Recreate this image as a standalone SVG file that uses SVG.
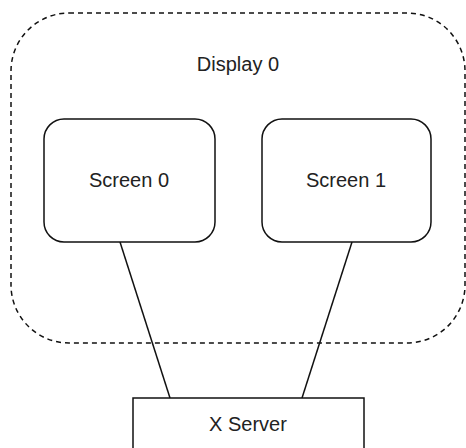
<svg xmlns="http://www.w3.org/2000/svg" width="466" height="448" viewBox="0 0 466 448">
<style>
.lbl{font-family:"Liberation Sans",Arial,sans-serif;font-size:20px;fill:#222;text-anchor:middle}
.box{fill:#fff;stroke:#111;stroke-width:1.5}
.edge{stroke:#111;stroke-width:1.5;fill:none}
</style>
<rect width="466" height="448" fill="#fff"/>
<g id="display0">
<rect x="11" y="13" width="454" height="330" rx="58" ry="58" fill="none" stroke="#111" stroke-width="1.5" stroke-dasharray="5,4"/>
<text class="lbl" x="238" y="71">Display 0</text>
</g>
<g id="connectors">
<line class="edge" x1="120" y1="242" x2="170" y2="398"/>
<line class="edge" x1="352" y1="242" x2="302" y2="398"/>
</g>
<g id="screen0">
<rect class="box" x="44" y="119" width="171" height="123" rx="20" ry="20"/>
<text class="lbl" x="129" y="187">Screen 0</text>
</g>
<g id="screen1">
<rect class="box" x="262" y="119" width="169" height="123" rx="20" ry="20"/>
<text class="lbl" x="346" y="187">Screen 1</text>
</g>
<g id="xserver">
<rect class="box" x="133" y="398" width="231" height="62"/>
<text class="lbl" x="248" y="431">X Server</text>
</g>
</svg>
